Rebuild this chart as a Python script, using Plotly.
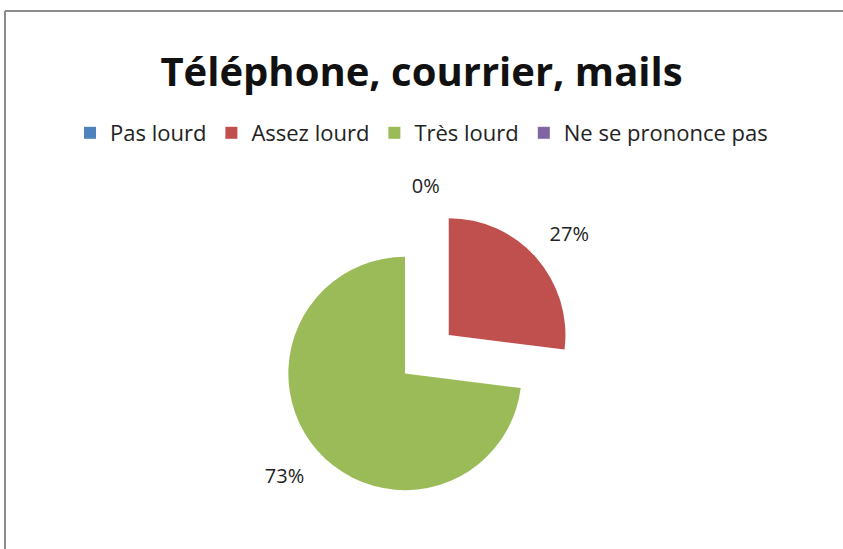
import plotly.graph_objects as go

categories = ["Pas lourd", "Assez lourd", "Très lourd", "Ne se prononce pas"]
values = [0, 27, 73, 0]
label_texts = ["0%", "27%<br> ", " <br>73%", ""]
colors = ["#4F81BD", "#C0504D", "#9BBB59", "#8064A2"]
pulls = [0.5, 0.5, 0, 0]

W, H = 843, 549

fig = go.Figure()
fig.add_trace(go.Pie(
    labels=categories,
    values=values,
    text=label_texts,
    textinfo="text",
    textposition="outside",
    sort=False,
    direction="clockwise",
    rotation=0,
    pull=pulls,
    marker=dict(colors=colors, line=dict(width=0)),
    textfont=dict(family="Open Sans", size=20, color="#222222"),
    domain=dict(x=[230 / W, 580 / W], y=[0, 351 / H]),
    showlegend=True,
    hoverinfo="label+percent",
))

fig.update_layout(
    width=W, height=H,
    margin=dict(l=0, r=0, t=0, b=0, autoexpand=False),
    paper_bgcolor="white",
    title=dict(text="<b>Téléphone, courrier, mails</b>", x=0.5, xanchor="center",
               y=1 - 72 / H, yanchor="middle",
               font=dict(family="Open Sans", size=40, color="#111111")),
    legend=dict(orientation="h", x=0.5, xanchor="center", y=1 - 133 / H, yanchor="middle",
                font=dict(family="Open Sans", size=22, color="#222222"),
                itemwidth=30, traceorder="normal"),
    shapes=[
        dict(type="line", xref="paper", yref="paper",
             x0=5 / W, x1=1, y0=1 - 11 / H, y1=1 - 11 / H,
             line=dict(color="#8c8c8c", width=2)),
        dict(type="line", xref="paper", yref="paper",
             x0=5 / W, x1=5 / W, y0=0, y1=1 - 11 / H,
             line=dict(color="#8c8c8c", width=2)),
    ],
)

fig.write_html("out.html", config={"displayModeBar": False},
               post_script="document.body.style.margin='0';document.body.style.overflow='hidden';")
